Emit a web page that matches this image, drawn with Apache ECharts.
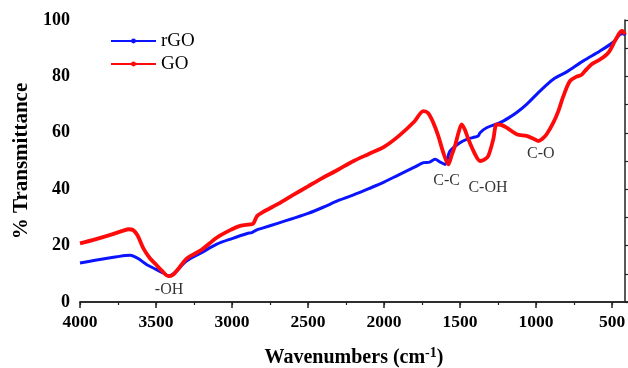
<!DOCTYPE html>
<html>
<head>
<meta charset="utf-8">
<script src="https://cdn.jsdelivr.net/npm/echarts@6/dist/echarts.min.js"></script>
<style>
html, body { margin: 0; padding: 0; background: #fff; }
#chart { width: 628px; height: 368px; }
</style>
</head>
<body>
<div id="chart"></div>
<script>
// 数据: rGO 与 GO 的红外透过率曲线
var rgoX = [4000, 3900, 3800, 3700, 3670, 3620, 3560, 3500, 3450, 3420, 3380, 3300, 3200, 3100, 3000, 2900, 2870, 2840, 2800, 2700, 2600, 2500, 2400, 2300, 2200, 2100, 2000, 1900, 1800, 1740, 1700, 1664, 1630, 1599, 1566, 1500, 1456, 1400, 1380, 1368, 1325, 1237, 1180, 1127, 1062, 974, 886, 798, 689, 579, 491, 447, 425, 414];
var rgoY = [13.8, 14.8, 15.7, 16.5, 16.6, 15.5, 13.2, 11.6, 10.2, 9.3, 10.2, 14.5, 17.5, 20.5, 22.5, 24.3, 24.6, 25.5, 26.2, 27.9, 29.6, 31.4, 33.6, 36.0, 38.0, 40.2, 42.5, 45.2, 47.8, 49.4, 49.6, 50.6, 49.6, 48.8, 53.5, 56.5, 57.7, 58.5, 58.9, 60.0, 61.8, 63.6, 65.3, 67.2, 70.1, 74.8, 79.0, 81.6, 85.5, 89.0, 92.2, 94.9, 95.2, 94.5];

var goX = [4000, 3900, 3800, 3720, 3680, 3650, 3620, 3583, 3540, 3500, 3460, 3420, 3390, 3350, 3300, 3250, 3200, 3101, 3000, 2947, 2882, 2860, 2835, 2800, 2700, 2600, 2500, 2421, 2300, 2200, 2100, 2000, 1900, 1800, 1741, 1710, 1676, 1643, 1610, 1577, 1555, 1533, 1510, 1489, 1467, 1445, 1401, 1368, 1340, 1314, 1281, 1259, 1230, 1193, 1127, 1062, 1020, 985, 960, 930, 886, 853, 820, 776, 733, 700, 678, 634, 579, 524, 480, 436, 425, 414];
var goY = [20.8, 22.2, 23.8, 25.2, 25.8, 25.5, 23.5, 19.0, 15.5, 13.3, 11.0, 9.2, 9.6, 12.0, 15.3, 17.0, 18.5, 22.8, 25.8, 27.0, 27.5, 27.8, 30.5, 31.8, 34.7, 37.9, 41.0, 43.5, 47.0, 50.0, 52.5, 55.0, 59.0, 64.0, 67.7, 67.0, 63.6, 58.9, 53.0, 48.8, 52.0, 55.3, 60.0, 63.0, 61.0, 57.7, 52.4, 50.0, 50.5, 51.8, 57.7, 63.0, 62.8, 61.8, 59.5, 58.9, 58.0, 57.1, 57.8, 59.5, 63.6, 67.7, 73.0, 78.4, 79.9, 80.6, 81.9, 84.3, 86.0, 88.4, 92.6, 96.1, 95.8, 94.9];

// 峰位标注
var peakNames = ['-OH', 'C-C', 'C-OH', 'C-O'];
var peakX = [3414, 1588, 1316, 968];
var peakY = [4.2, 42.9, 40.6, 52.4];

function pairs(xs, ys) {
    return xs.map(function (x, i) { return [x, ys[i]]; });
}

var serif = "'Liberation Serif', 'Times New Roman', serif";
var axisColor = '#222';
var noSplit = { show: false };

// x 轴从 0 画起，网格右侧超出画布，使 500 以下的部分落在画面之外
var xBase = { type: 'value', inverse: true, min: 0, max: 4000, splitLine: noSplit };
var yBase = { type: 'value', min: 0, max: 100, splitLine: noSplit };

var chart = echarts.init(document.getElementById('chart'));
chart.setOption({
    animation: false,
    grid: { left: 80, right: -60, top: 20, bottom: 66, outerBoundsMode: 'none', containLabel: false },
    legend: {
        data: ['rGO', 'GO'],
        orient: 'vertical',
        left: 110,
        top: 31,
        padding: 0,
        itemWidth: 45,
        itemHeight: 6,
        itemGap: 3,
        textStyle: { fontFamily: serif, fontSize: 19, color: '#000', lineHeight: 20 }
    },
    xAxis: [Object.assign({}, xBase, {
        interval: 500,
        name: 'Wavenumbers (cm{sup|-1})',
        nameLocation: 'middle',
        nameGap: 44,
        nameTextStyle: {
            fontFamily: serif, fontSize: 20, fontWeight: 'bold', color: '#000',
            padding: [0, 60, 0, 0],
            rich: { sup: { fontFamily: serif, fontSize: 14, fontWeight: 'bold', color: '#000', padding: [0, 0, 9, 0] } }
        },
        axisLine: { lineStyle: { color: axisColor, width: 1.5 } },
        axisTick: { length: 6, lineStyle: { color: axisColor, width: 1.5 } },
        axisLabel: {
            formatter: function (v) { return String(v); },
            fontFamily: serif, fontSize: 17.5, fontWeight: 'bold', color: '#000', margin: 11
        }
    }), Object.assign({}, xBase, {
        // 次刻度
        interval: 250,
        position: 'bottom',
        axisLine: { show: false },
        axisTick: { length: 3, lineStyle: { color: axisColor, width: 1.2 } },
        axisLabel: { show: false }
    }), Object.assign({}, xBase, {
        position: 'top',
        axisLine: { show: true, lineStyle: { color: axisColor, width: 1.5 } },
        axisTick: { show: false },
        axisLabel: { show: false }
    })],
    yAxis: [Object.assign({}, yBase, {
        interval: 20,
        name: '% Transmittance',
        nameLocation: 'middle',
        nameGap: 47,
        nameTextStyle: { fontFamily: serif, fontSize: 21, fontWeight: 'bold', color: '#000' },
        axisLine: { show: true, lineStyle: { color: axisColor, width: 1.5 } },
        axisTick: { length: 7, lineStyle: { color: axisColor, width: 1.5 } },
        axisLabel: { fontFamily: serif, fontSize: 18, fontWeight: 'bold', color: '#000', margin: 10 }
    }), Object.assign({}, yBase, {
        interval: 10,
        position: 'left',
        axisLine: { show: false },
        axisTick: { length: 4, lineStyle: { color: axisColor, width: 1.2 } },
        axisLabel: { show: false }
    }), Object.assign({}, yBase, {
        interval: 10,
        position: 'right',
        offset: -63,
        axisLine: { show: true, lineStyle: { color: axisColor, width: 1.5 } },
        axisTick: { length: 4, lineStyle: { color: axisColor, width: 1.2 } },
        axisLabel: { show: false }
    })],
    series: [{
        name: 'rGO',
        type: 'line',
        data: pairs(rgoX, rgoY),
        smooth: 0.3,
        symbol: 'circle',
        symbolSize: 4,
        showSymbol: false,
        color: '#0a14ff',
        lineStyle: { width: 3 }
    }, {
        name: 'GO',
        type: 'line',
        data: pairs(goX, goY),
        smooth: 0.3,
        symbol: 'circle',
        symbolSize: 4,
        showSymbol: false,
        color: '#ff0a0a',
        lineStyle: { width: 3.8 }
    }, {
        name: 'peaks',
        type: 'scatter',
        symbolSize: 0,
        data: peakNames.map(function (n, i) { return { name: n, value: [peakX[i], peakY[i]] }; }),
        label: {
            show: true,
            position: 'inside',
            formatter: '{b}',
            fontFamily: serif,
            fontSize: 16,
            color: '#000'
        },
        silent: true
    }]
});
</script>
</body>
</html>
